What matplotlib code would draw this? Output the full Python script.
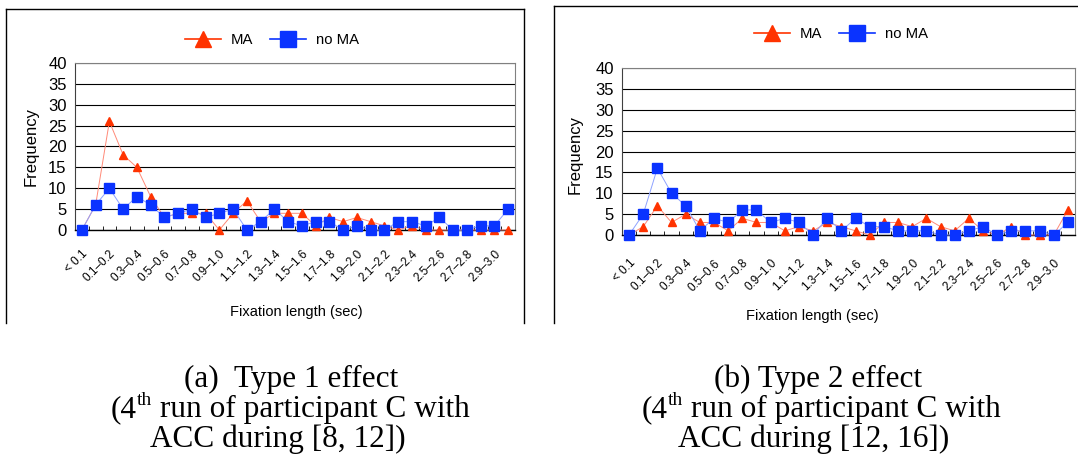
import matplotlib
matplotlib.use("Agg")
import matplotlib.pyplot as plt
from matplotlib.lines import Line2D

# Fixation-length bins (only every other one gets a visible label)
categories = [
	"< 0.1", "0.0–0.1", "0.1–0.2", "0.2–0.3", "0.3–0.4", "0.4–0.5", "0.5–0.6", "0.6–0.7",
	"0.7–0.8", "0.8–0.9", "0.9–1.0", "1.0–1.1", "1.1–1.2", "1.2–1.3", "1.3–1.4", "1.4–1.5",
	"1.5–1.6", "1.6–1.7", "1.7–1.8", "1.8–1.9", "1.9–2.0", "2.0–2.1", "2.1–2.2", "2.2–2.3",
	"2.3–2.4", "2.4–2.5", "2.5–2.6", "2.6–2.7", "2.7–2.8", "2.8–2.9", "2.9–3.0", "3.0 <",
]

# (a) Type 1 effect
ma_type1 = [0, 6, 26, 18, 15, 8, 3, 4, 4, 4, 0, 4, 7, 2, 4, 4,
			4, 1, 3, 2, 3, 2, 1, 0, 1, 0, 0, 0, 0, 0, 0, 0]
no_ma_type1 = [0, 6, 10, 5, 8, 6, 3, 4, 5, 3, 4, 5, 0, 2, 5, 2,
			   1, 2, 2, 0, 1, 0, 0, 2, 2, 1, 3, 0, 0, 1, 1, 5]

# (b) Type 2 effect
ma_type2 = [0, 2, 7, 3, 5, 3, 3, 1, 4, 3, 3, 1, 2, 1, 3, 2,
			1, 0, 3, 3, 2, 4, 2, 1, 4, 1, 0, 2, 0, 0, 0, 6]
no_ma_type2 = [0, 5, 16, 10, 7, 1, 4, 3, 6, 6, 3, 4, 3, 0, 4, 1,
			   4, 2, 2, 1, 1, 1, 0, 0, 1, 2, 0, 1, 1, 1, 0, 3]

# caption lines: (text before superscript, superscript, text after)
captions_a = [("(a)  Type 1 effect", "", ""), ("(4", "th", " run of participant C with"),
			  ("ACC during [8, 12])", "", "")]
captions_b = [("(b) Type 2 effect", "", ""), ("(4", "th", " run of participant C with"),
			  ("ACC during [12, 16])", "", "")]

W, H = 1078, 470
RED = "#ff3300"
RED_LINE = "#ff8a78"
BLUE = "#0a33ff"
BLUE_LINE = "#8ea2ff"
CAPTION_SIZE = 22.5

plt.rcParams["font.family"] = ["Liberation Sans", "DejaVu Sans"]


def fx(px):
	return px / W


def fy(py):
	return 1 - py / H


def add_axes(fig, left, top, right, bottom):
	return fig.add_axes([fx(left), fy(bottom), (right - left) / W, (bottom - top) / H])


def draw_panel(ax, ma, no_ma, label_pad):
	x = list(range(len(categories)))
	ax.plot(x, ma, color=RED_LINE, lw=0.7, marker="^", ms=6, mfc=RED, mec=RED,
			clip_on=False, zorder=3)
	ax.plot(x, no_ma, color=BLUE_LINE, lw=0.7, marker="s", ms=7.6, mfc=BLUE, mec=BLUE,
			clip_on=False, zorder=4)

	ax.set_xlim(-0.5, len(categories) - 0.5)
	ax.set_ylim(0, 40)
	ax.set_yticks(range(0, 41, 5))
	ax.yaxis.grid(True, color="black", lw=0.8)
	ax.set_axisbelow(True)

	ax.set_xticks(x[::2])
	ax.set_xticklabels(categories[::2], rotation=45, ha="right", va="top",
					   rotation_mode="anchor", fontsize=8.5)
	ax.set_xticks([i + 0.5 for i in range(len(categories) - 1)], minor=True)
	ax.tick_params(axis="x", which="major", length=0, pad=label_pad)
	ax.tick_params(axis="x", which="minor", direction="in", length=3, color="black")
	ax.tick_params(axis="y", length=0, pad=6, labelsize=12)

	for side in ("top", "right"):
		ax.spines[side].set_color("#808080")
	ax.spines["left"].set_color("#404040")
	ax.spines["bottom"].set_color("black")
	ax.spines["bottom"].set_linewidth(1.0)


def add_legend(fig, ax, cx, cy):
	handles = [
		Line2D([], [], color=RED, lw=1.2, marker="^", ms=11, mfc=RED, mec=RED),
		Line2D([], [], color=BLUE, lw=1.2, marker="s", ms=12, mfc=BLUE, mec=BLUE),
	]
	ax.legend(handles, ["MA", "no MA"], loc="center", bbox_to_anchor=(fx(cx), fy(cy)),
			  bbox_transform=fig.transFigure, ncol=2, frameon=False, fontsize=10.7,
			  handlelength=2.4, handletextpad=0.7, columnspacing=1.1)


def add_box(fig, left, top, right, bottom):
	kw = dict(transform=fig.transFigure, color="black", lw=1.0)
	fig.add_artist(Line2D([fx(left), fx(left)], [fy(bottom), fy(top)], **kw))
	fig.add_artist(Line2D([fx(left), fx(right)], [fy(top), fy(top)], **kw))
	if right < W:
		fig.add_artist(Line2D([fx(right), fx(right)], [fy(top), fy(bottom)], **kw))


def caption_line(fig, renderer, cx, base, pre, sup, post):
	"""Centered serif line with an optional superscript piece."""
	font = dict(family="Liberation Serif", va="baseline", ha="left")
	pieces = [(pre, CAPTION_SIZE, 0)]
	if sup:
		pieces.append((sup, CAPTION_SIZE * 0.62, CAPTION_SIZE * 0.55))
		pieces.append((post, CAPTION_SIZE, 0))
	texts = []
	for s, size, rise in pieces:
		t = fig.text(0, 0, s, fontsize=size, **font)
		texts.append((t, rise))
	widths = [t.get_window_extent(renderer).width for t, _ in texts]
	x = cx - sum(widths) / 2
	for (t, rise), w in zip(texts, widths):
		t.set_position((fx(x), fy(base - rise)))
		x += w


fig = plt.figure(figsize=(W / 100, H / 100), dpi=100)
renderer = fig.canvas.get_renderer()

# Panel (a)
add_box(fig, 6, 9, 524, 323)
ax_a = add_axes(fig, 75, 63, 515, 230)
draw_panel(ax_a, ma_type1, no_ma_type1, label_pad=13)
add_legend(fig, ax_a, 272, 40)
fig.text(fx(31), fy(147), "Frequency", rotation=90, ha="center", va="center", fontsize=12)
fig.text(fx(296), fy(312), "Fixation length (sec)", ha="center", va="center", fontsize=10.5)

# Panel (b)
add_box(fig, 554, 6, W + 5, 323)
ax_b = add_axes(fig, 622, 68, 1075, 235)
draw_panel(ax_b, ma_type2, no_ma_type2, label_pad=16)
add_legend(fig, ax_b, 841, 34)
fig.text(fx(575), fy(155), "Frequency", rotation=90, ha="center", va="center", fontsize=12)
fig.text(fx(812), fy(316), "Fixation length (sec)", ha="center", va="center", fontsize=10.5)

# Captions under each panel
for (pre, sup, post), cx, base in zip(captions_a, [291, 290, 278], [387, 417, 447]):
	caption_line(fig, renderer, cx, base, pre, sup, post)
for (pre, sup, post), cx, base in zip(captions_b, [818, 821, 814], [387, 417, 447]):
	caption_line(fig, renderer, cx, base, pre, sup, post)

fig.savefig("out.png", dpi=100)
